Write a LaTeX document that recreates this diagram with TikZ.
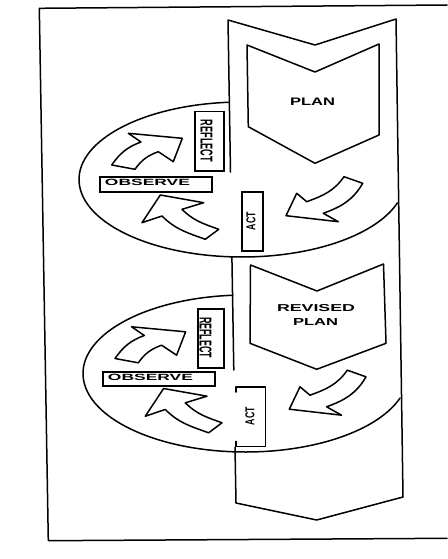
\documentclass[tikz,border=0pt]{standalone}
\usepackage{fontspec}
\setmainfont{Liberation Sans}
\usepackage{graphicx}
\tikzset{
  ln/.style={line width=1.5pt, line join=round, line cap=round},
  box/.style={draw, line width=1.5pt, inner sep=0pt, anchor=north west, fill=white},
  nobox/.style={inner sep=0pt, anchor=north west},
  txt/.style={inner sep=0pt, font=\bfseries},
  blk/.style={ln, fill=white},
}
\newcommand{\myArrowSet}{%
  % observe -> reflect
  \filldraw[blk] (111.7,165) to[out=55,in=-160] (141,142) -- (128.3,133.3) -- (182.3,138.3)
     -- (173.3,161.7) -- (158.3,151.7) to[out=-160,in=55] (135,169.3) -- cycle;
  % act -> observe
  \filldraw[blk] (160.3,195) -- (203.7,202.7) -- (182,209.3) to[out=-45,in=-200] (218.7,229.3)
     -- (205.3,239.3) to[out=-200,in=-45] (162,216) -- (142,222.7) -- cycle;
  % plan -> act
  \filldraw[blk] (344,176.7) -- (362.7,183.3) to[out=-120,in=20] (323.3,213.3) -- (338.3,221.7)
     -- (286,215.7) -- (296.7,193.3) -- (306.7,201.7) to[out=20,in=-125] (344,176.7) -- cycle;
}
\begin{document}
\begin{tikzpicture}[x=1pt,y=-1pt]
\useasboundingbox (0,0) rectangle (447,559);
% frame
\draw[ln] (447,5) -- (39.3,8.3) -- (48.3,540.7) -- (447,538.3);
% band
\coordinate (btl) at (228,20);
\coordinate (bnotch) at (315,45);
\coordinate (btr) at (396,19);
\coordinate (bbr) at (403,497);
\coordinate (btip) at (316.7,520);
\coordinate (bbl) at (236,503);
\coordinate (bla) at (230.5,172);
\coordinate (blb1) at (231.9,257);
\coordinate (blb2) at (233.8,370);
\coordinate (blc) at (235,447);
\draw[ln] (bla) -- (btl) -- (bnotch) -- (btr) -- (bbr) -- (btip) -- (bbl) -- (blc);
\draw[ln] (blb1) -- (blb2);
% chevrons
\draw[ln] (247,45) -- (315,72) -- (379,44) -- (379,135) -- (315,163.3) -- (248.3,126.7) -- cycle;
\draw[ln] (250.5,265) -- (317,291) -- (383.5,264) -- (386,343.3) -- (316.7,369.3) -- (250,343.3) -- cycle;
% ellipses
\draw[ln] (242,179.5) ++(265.6:163 and 77.5) arc[start angle=265.6, end angle=17.6, x radius=163, y radius=77.5];
\draw[ln] (245.6,373.5) ++(265.4:162.6 and 78.5) arc[start angle=265.4, end angle=18.2, x radius=162.6, y radius=78.5];
% boxes
\node[box, minimum width=112pt, minimum height=15pt] (obs1) at (99,176) {};
\node[box, minimum width=112pt, minimum height=14pt] (obs2) at (102,371) {};
\node[box, minimum width=29pt, minimum height=59pt] (ref1) at (194,111) {};
\node[box, minimum width=26pt, minimum height=59pt] (ref2) at (197,308) {};
\node[box, minimum width=21pt, minimum height=59pt] (act1) at (241,191) {};
\node[nobox, minimum width=29pt, minimum height=59pt] (act2) at (236,387) {};
\draw[ln] (act2.north west) ++(0,5) -- (act2.north west) -- (act2.north east)
  -- (act2.south east) -- (act2.south west) -- ++(0,-5);
% arrows
\myArrowSet
\begin{scope}[shift={(3.3,193.5)}]
\myArrowSet
\end{scope}
% texts
\node[txt] (tplan1) at (312.5,101.5) {\resizebox{45pt}{7.5pt}{PLAN}};
\node[txt] (trev) at (316,308) {\resizebox{78pt}{7pt}{REVISED}};
\node[txt] (tplan2) at (315.5,322) {\resizebox{45pt}{7pt}{PLAN}};
\node[txt] (tobs1) at (147.5,182.5) {\resizebox{85pt}{6.3pt}{OBSERVE}};
\node[txt] (tobs2) at (150.5,377.5) {\resizebox{85pt}{6.3pt}{OBSERVE}};
\node[txt, rotate=-90] (tref1) at (206.5,141) {\resizebox{42pt}{12pt}{REFLECT}};
\node[txt, rotate=-90] (tref2) at (205.5,337.5) {\resizebox{41pt}{12pt}{REFLECT}};
\node[txt, rotate=90] (tact1) at (251,221) {\resizebox{18pt}{9pt}{ACT}};
\node[txt, rotate=90] (tact2) at (250,416) {\resizebox{18pt}{9pt}{ACT}};
\end{tikzpicture}
\end{document}
